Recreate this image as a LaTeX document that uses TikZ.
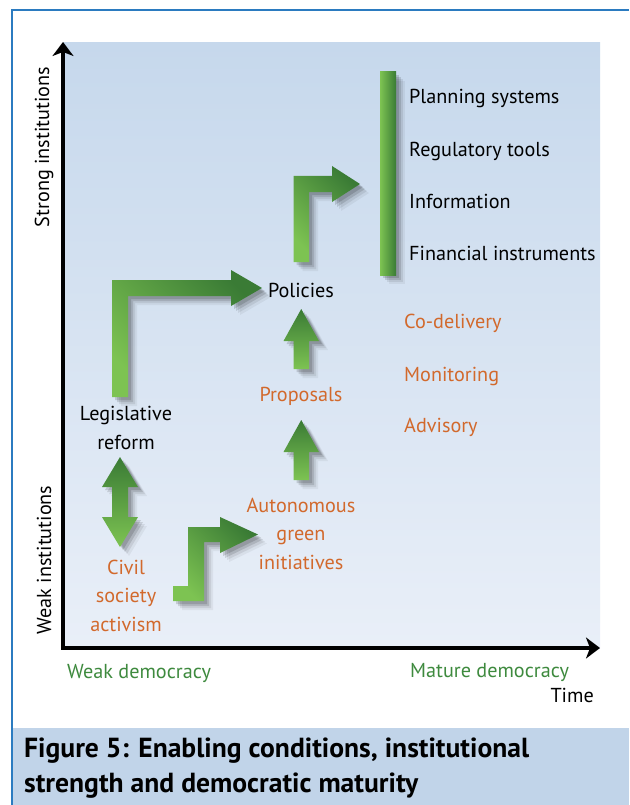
\documentclass[tikz,border=0pt]{standalone}
\usepackage{fontspec}
\setmainfont{PT Sans}
\usepackage{xcolor}
\usepackage{tikz}
\usetikzlibrary{arrows.meta}
\usetikzlibrary{shadows}

\definecolor{bgtop}{HTML}{C6D8EC}
\definecolor{bgbottom}{HTML}{E9EFF8}
\definecolor{frameblue}{HTML}{2B7BC0}
\definecolor{captionblue}{HTML}{C1D4E9}
\definecolor{lightgreen}{HTML}{7DC352}
\definecolor{darkgreen}{HTML}{3A7B35}
\definecolor{orangetext}{HTML}{D2692C}
\definecolor{greentext}{HTML}{3E8A3E}

\begin{document}
\begin{tikzpicture}[x = 1pt, y = -1pt,
  every node/.style = {inner sep = 0pt, font = \fontsize{20.2}{28.5}\selectfont},
  blacktext/.style = {text = black},
  oranged/.style = {text = orangetext},
  greened/.style = {text = greentext},
  captiontext/.style = {font = \fontsize{27.6}{35}\selectfont\bfseries, align = left},
  arrowshadow/.style = {
    drop shadow = {shadow xshift = 3pt, shadow yshift = -3pt, opacity = .14, fill = black},
    drop shadow = {shadow xshift = 5pt, shadow yshift = -5pt, opacity = .12, fill = black},
    drop shadow = {shadow xshift = 7pt, shadow yshift = -7pt, opacity = .08, fill = black},
    drop shadow = {shadow xshift = 9pt, shadow yshift = -9pt, opacity = .05, fill = black}},
  greenarrow/.style = {bottom color = lightgreen, top color = darkgreen,
    shading angle = -45, arrowshadow},
  uparrow/.style = {bottom color = lightgreen, top color = darkgreen, arrowshadow},
  axisline/.style = {line width = 4.5pt, line join = miter,
    {Stealth[length = 14pt, width = 21pt, inset = 4pt]}-{Stealth[length = 14pt, width = 21pt, inset = 4pt]}}
]
\useasboundingbox (0,0) rectangle (629,805);

% background and frame
  \fill[white] (0,0) rectangle (629,805);
  \shade[top color = bgtop, bottom color = bgbottom] (63,43) rectangle (600,648);
  \fill[captionblue] (12,728) rectangle (629,805);
  \draw[frameblue, line width = 1.2pt] (629,10) -- (12,10) -- (12,805);

% axes
  \draw[axisline] (63,42) -- (63,648) -- (600,648);
  \node[rotate = 90] (strong) at (44,147) {Strong institutions};
  \node[rotate = 90] (weak) at (44,560) {Weak institutions};
  \node[greened, anchor = base west] (weakdem) at (67,678) {Weak democracy};
  \node[greened, anchor = base west] (maturedem) at (410,677) {Mature democracy};
  \node[blacktext, anchor = base east] (time) at (594,702) {Time};

% instruments
  \path[left color = lightgreen, right color = darkgreen, arrowshadow] (380,72) rectangle (396,275);
  \node[blacktext, anchor = base west] (planning) at (409,104) {Planning systems};
  \node[blacktext, anchor = base west] (regulatory) at (409,157) {Regulatory tools};
  \node[blacktext, anchor = base west] (information) at (409,208) {Information};
  \node[blacktext, anchor = base west] (financial) at (409,260) {Financial instruments};
  \node[oranged, anchor = base west] (codelivery) at (404,328) {Co-delivery};
  \node[oranged, anchor = base west] (monitoring) at (404,381) {Monitoring};
  \node[oranged, anchor = base west] (advisory) at (404,432) {Advisory};

% stages
  \node[blacktext, anchor = base] (policies) at (301,297) {Policies};
  \node[oranged, anchor = base] (proposals) at (301,401) {Proposals};
  \node[blacktext, anchor = base, align = center] (legislative) at (126,449) {Legislative\\reform};
  \node[oranged, anchor = base, align = center] (autonomous) at (301,569) {Autonomous\\green\\initiatives};
  \node[oranged, anchor = base, align = center] (civil) at (126,631) {Civil\\society\\activism};

% arrows
  \path[greenarrow] (112,397) -- (112,280) -- (231,280) -- (231,270) -- (262,288)
    -- (231,306) -- (231,296) -- (128,296) -- (128,397) -- cycle;
  \path[greenarrow] (293.5,262) -- (293.5,176) -- (332,176) -- (332,166) -- (360,184)
    -- (332,202) -- (332,192) -- (309,192) -- (309,262) -- cycle;
  \path[uparrow] (293.5,369) -- (293.5,341) -- (283.5,341) -- (301.25,309)
    -- (319,341) -- (309,341) -- (309,369) -- cycle;
  \path[uparrow] (293.5,480) -- (293.5,452) -- (283.5,452) -- (301.25,420)
    -- (319,452) -- (309,452) -- (309,480) -- cycle;
  \path[uparrow] (120,457) -- (138,487) -- (128,487) -- (128,517) -- (138,517)
    -- (120,547) -- (102,517) -- (112,517) -- (112,487) -- (102,487) -- cycle;
  \path[greenarrow] (173,586) -- (188,586) -- (188,527) -- (220,527) -- (220,517)
    -- (258,534.5) -- (220,553) -- (220,542) -- (204,542) -- (204,601) -- (173,601) -- cycle;

% caption
  \node[captiontext, anchor = base west] (caption) at (24,792)
    {Figure 5: Enabling conditions, institutional\\strength and democratic maturity};
\end{tikzpicture}
\end{document}
